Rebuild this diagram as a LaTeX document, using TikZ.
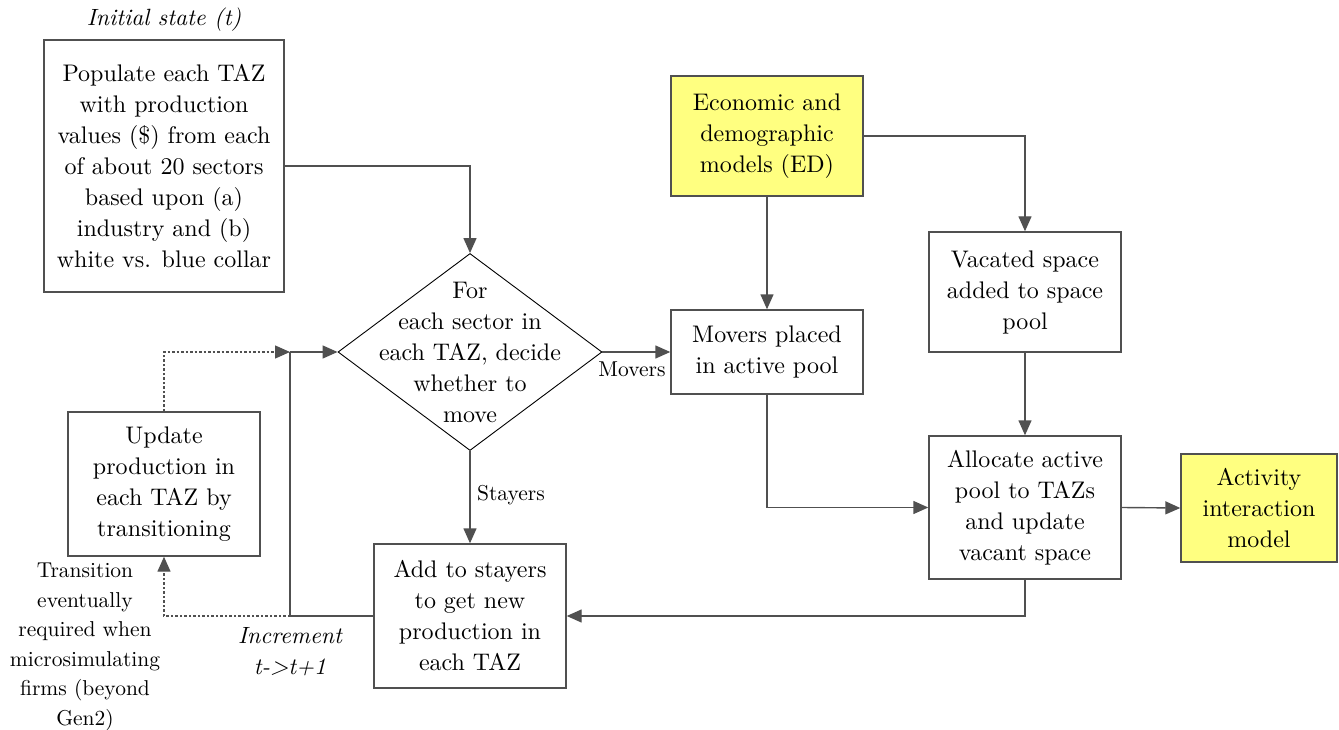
\documentclass[tikz,border=0pt]{standalone}
\usepackage{fontspec}
\setmainfont{lmroman10}[Extension=.otf, UprightFont=*-regular, ItalicFont=*-italic, BoldFont=*-bold]
\usetikzlibrary{shapes.geometric,arrows.meta}
\definecolor{edge}{RGB}{80,80,80}
\definecolor{modelfill}{RGB}{255,255,128}
\begin{document}
\begin{tikzpicture}[x=1pt,y=-1pt,
  every node/.style={font=\fontsize{24}{31}\selectfont, align=center, inner sep=0pt},
  procbox/.style={draw=edge, line width=1.4pt, rectangle},
  smalllbl/.style={font=\fontsize{21.5}{29}\selectfont},
  slanted/.style={font=\fontsize{23.5}{31}\selectfont\itshape},
  wire/.style={draw=edge, line width=1.4pt},
  flow/.style={wire, -{Triangle[length=15pt,width=13pt]}},
  dotflow/.style={flow, dash pattern=on 2.5pt off 2pt}
]
\useasboundingbox (0,0) rectangle (1339,730);

% process boxes
\node[procbox, minimum width=240, minimum height=252] (init) at (164,166)
  {Populate each TAZ\\with production\\values (\$) from each\\of about 20 sectors\\based upon (a)\\industry and (b)\\white vs. blue collar};
\node[slanted] (initlbl) at (164,20) {Initial state (t)};

% decision
\node[draw=black, line width=0.9pt, diamond, minimum width=264, minimum height=197] (dec) at (470,352) {};
\node (dectxt) at (470,352) {For\\each sector in\\each TAZ, decide\\whether to\\move};

\node[procbox, fill=modelfill, minimum width=192, minimum height=120] (ed) at (767,136)
  {Economic and\\demographic\\models (ED)};
\node[procbox, minimum width=192, minimum height=84] (movers) at (767,352)
  {Movers placed\\in active pool};
\node[procbox, minimum width=192, minimum height=120] (vac) at (1025,292)
  {Vacated space\\added to space\\pool};
\node[procbox, minimum width=192, minimum height=143] (alloc) at (1025,507.5)
  {Allocate active\\pool to TAZs\\and update\\vacant space};
\node[procbox, fill=modelfill, minimum width=156, minimum height=108] (act) at (1259,508)
  {Activity\\interaction\\model};
\node[procbox, minimum width=192, minimum height=144] (add) at (470,616)
  {Add to stayers\\to get new\\production in\\each TAZ};
\node[procbox, minimum width=192, minimum height=144] (upd) at (164,484)
  {Update\\production in\\each TAZ by\\transitioning};

% labels
\node[smalllbl] (movlbl) at (632,369) {Movers};
\node[smalllbl] (staylbl) at (511,495) {Stayers};
\node[slanted] (incr) at (290,652) {Increment\\t->t+1};
\node[font=\fontsize{21.5}{29.6}\selectfont] (note) at (85,647)
  {Transition\\eventually\\required when\\microsimulating\\firms (beyond\\Gen2)};

% junctions of the time loop
\coordinate (jtop) at (290,352);
\coordinate (jbot) at (290,616);

% connectors
\draw[flow] (init.east) -| (dec.north);
\draw[flow] (dec.east) -- (movers.west);
\draw[flow] (dec.south) -- (add.north);
\draw[flow] (ed.south) -- (movers.north);
\draw[flow] (ed.east) -| (vac.north);
\draw[flow] (vac.south) -- (alloc.north);
\draw[flow] (movers.south) |- (alloc.west);
\draw[flow] (alloc.east) -- (act.west);
\draw[flow] (alloc.south) |- (add.east);
\draw[wire] (add.west) -- (jbot) -- (jtop);
\draw[flow] (jtop) -- (dec.west);
\draw[dotflow] (upd.north) |- (jtop);
\draw[dotflow] (jbot) -| (upd.south);
\end{tikzpicture}
\end{document}
